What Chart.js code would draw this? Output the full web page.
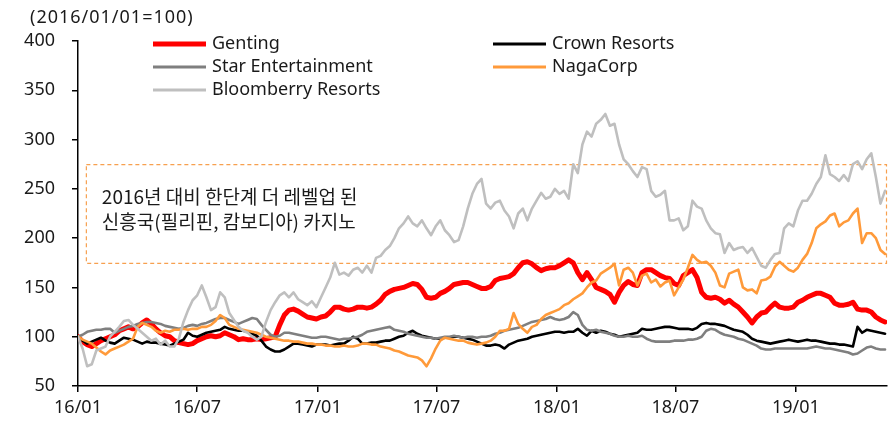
<!DOCTYPE html>
<html><head><meta charset="utf-8">
<script src="https://cdn.jsdelivr.net/npm/chart.js@4.4.1/dist/chart.umd.min.js"></script>
<style>html,body{margin:0;padding:0;background:#fff;}#wrap{width:889px;height:425px;}</style>
</head><body><div id="wrap"><canvas id="c" width="889" height="425"></canvas></div>
<script>
// weekly observations, day offsets from 2016-01-01
const weekDays = Array.from({length: 177}, (_, i) => i * 7);

const genting = [100,95,92,90,93,96,98,100,102,106,
108,110,108,110,114,117,113,108,104,101,
100,96,94,93,92,93,96,98,100,101,
100,101,104,102,100,97,98,97,97,98,
97,98,99,100,112,122,127,128,126,123,
120,119,118,120,121,125,130,130,128,127,
128,130,130,129,130,133,137,143,146,148,
149,150,152,154,153,148,140,139,140,144,
146,149,153,154,155,155,153,151,149,149,
151,157,159,160,161,164,170,175,176,174,
170,167,169,170,170,172,175,178,175,165,
158,165,158,150,148,146,143,135,145,152,
156,153,152,165,168,168,165,162,160,159,
154,152,162,165,168,160,145,140,139,140,
138,134,137,133,130,125,120,114,120,124,
125,130,134,130,129,129,130,135,137,140,
142,144,144,142,140,134,132,132,133,135,
128,127,127,125,120,117,115];

const crown = [100,96,93,95,97,99,96,94,93,96,
99,98,97,95,93,95,94,94,93,92,
91,93,95,97,104,101,100,102,104,105,
106,107,110,108,107,106,106,105,103,101,
96,90,87,85,85,87,90,93,93,92,
91,90,92,92,92,91,92,93,93,96,
100,98,93,93,94,94,95,96,96,98,
100,101,104,106,103,101,100,99,98,98,
99,99,100,100,99,98,97,95,93,91,
91,92,91,88,92,94,96,97,98,100,
101,102,103,104,105,105,104,105,105,108,
104,101,106,104,106,105,103,102,100,101,
102,103,104,108,107,107,108,109,110,110,
109,108,108,108,107,109,113,114,113,113,
112,111,109,107,106,105,102,98,96,95,
94,93,94,95,96,97,96,95,96,97,
96,96,95,94,93,93,92,92,91,90,
110,104,107,106,105,104,103];

const star = [100,102,105,106,107,107,108,108,104,106,
108,110,111,113,114,115,115,114,113,111,
110,109,108,109,111,112,111,113,114,116,
118,119,119,117,115,113,115,117,119,118,
112,107,102,100,101,104,104,103,102,101,
100,99,99,100,100,99,98,97,98,98,
99,100,102,105,106,107,108,109,110,107,
106,105,103,102,101,100,99,99,98,99,
100,100,101,100,99,100,100,99,100,100,
101,103,104,106,107,108,109,111,113,115,
116,117,118,120,118,117,118,120,125,122,
112,107,106,107,105,104,103,101,100,100,
101,100,100,101,98,96,95,95,95,95,
96,96,96,97,97,98,100,106,108,107,
104,102,101,100,98,97,95,93,91,88,
87,87,88,88,88,88,88,88,88,88,
89,90,89,88,88,87,86,85,84,82,
83,86,89,90,88,87,87];

const nagacorp = [100,97,95,93,89,85,82,86,88,90,
92,95,98,110,114,112,110,106,104,106,
105,107,107,108,107,108,108,110,110,112,
116,122,119,112,110,108,107,106,105,104,
102,100,99,98,97,96,96,95,95,94,
93,93,92,92,91,91,90,90,91,90,
90,91,93,93,92,92,90,89,88,86,
85,83,81,80,79,76,70,78,88,96,
99,98,97,96,96,94,93,92,93,94,
96,100,106,106,108,124,113,108,104,110,
112,118,122,124,126,128,132,134,138,141,
144,150,155,157,164,167,170,174,152,168,
170,165,152,162,164,155,158,151,155,157,
142,150,158,170,183,178,175,176,172,165,
152,150,164,166,168,150,147,148,144,157,
158,161,171,176,172,168,166,170,178,184,
195,210,214,217,223,225,212,216,218,225,
230,195,205,205,200,188,184];

const bloomberry = [100,88,70,72,86,88,90,100,105,110,
116,117,112,108,104,100,96,98,92,96,
90,90,98,115,127,137,142,152,140,127,
130,145,140,124,117,110,106,104,100,97,
100,115,127,135,142,145,140,145,138,135,
132,136,130,140,150,160,175,163,165,162,
168,170,165,172,165,180,182,188,192,200,
210,215,222,215,212,218,210,203,212,218,
208,203,196,198,212,230,245,255,260,235,
230,236,238,228,222,210,225,230,218,230,
238,246,240,242,250,245,248,240,275,266,
295,308,303,316,320,326,314,316,295,280,
275,268,262,272,270,248,242,244,248,218,
218,220,208,212,238,232,230,218,210,205,
204,185,195,188,190,191,185,190,181,172,
170,178,184,185,210,215,212,228,238,238,
245,255,262,284,265,262,258,264,258,275,
278,270,280,286,262,235,248];

const seriesNames = ['Genting','Crown Resorts','Star Entertainment','NagaCorp','Bloomberry Resorts'];
const tickDays = [0,182,366,547,731,912,1096];
const tickLabels = ['16/01','16/07','17/01','17/07','18/01','18/07','19/01'];
const yTicks = [50,100,150,200,250,300,350,400];
const unitLabel = '(2016/01/01=100)';
const noteLines = ['2016년 대비 한단계 더 레벨업 된','신흥국(필리핀, 캄보디아) 카지노'];
const bandRange = [175, 275];
const bandStartDay = 12;

const FONT = '"Noto Sans", "Noto Sans CJK KR", sans-serif';
const toXY = arr => arr.map((v, i) => ({x: weekDays[i], y: v}));

const styles = [
  {color:'#ff0000', width:5, order:5},
  {color:'#000000', width:2.6, order:4},
  {color:'#7f7f7f', width:2.6, order:3},
  {color:'#ff9a3a', width:2.6, order:2},
  {color:'#bfbfbf', width:2.6, order:1}
];
const allSeries = [genting, crown, star, nagacorp, bloomberry];

const datasets = allSeries.map((arr, k) => ({
  label: seriesNames[k],
  data: toXY(arr),
  borderColor: styles[k].color,
  backgroundColor: styles[k].color,
  borderWidth: styles[k].width,
  order: styles[k].order,
  pointRadius: 0,
  tension: 0,
  borderJoinStyle: 'round',
  borderCapStyle: 'round'
}));

const decoPlugin = {
  id: 'deco',
  beforeDatasetsDraw(chart) {
    const {ctx, chartArea, scales} = chart;
    const x1 = scales.x.getPixelForValue(bandStartDay);
    const x2 = chartArea.right - 1;
    const yTop = scales.y.getPixelForValue(bandRange[1]);
    const yBot = scales.y.getPixelForValue(bandRange[0]);
    ctx.save();
    ctx.strokeStyle = '#f7a04f';
    ctx.lineWidth = 1.2;
    ctx.setLineDash([4, 3]);
    ctx.strokeRect(x1 + 0.5, yTop + 0.5, x2 - x1, yBot - yTop);
    ctx.setLineDash([]);
    ctx.fillStyle = '#1a1a1a';
    ctx.font = '19px "Noto Sans CJK KR", "Noto Sans", sans-serif';
    ctx.textBaseline = 'middle';
    ctx.textAlign = 'left';
    ctx.fillText(noteLines[0], x1 + 16, yTop + 33);
    ctx.fillText(noteLines[1], x1 + 16, yTop + 58);
    ctx.restore();
  },
  afterDraw(chart) {
    const {ctx} = chart;
    ctx.save();
    ctx.fillStyle = '#1a1a1a';
    ctx.textBaseline = 'middle';
    ctx.textAlign = 'left';
    ctx.font = '18px ' + FONT;
    try { ctx.letterSpacing = '1px'; } catch (e) {}
    ctx.fillText(unitLabel, 30, 18);
    try { ctx.letterSpacing = '0px'; } catch (e) {}
    const cols = [153, 493];
    const rows = [44, 67, 90];
    const place = [[0,0],[1,0],[0,1],[1,1],[0,2]];
    seriesNames.forEach((name, k) => {
      const [c, r] = place[k];
      const x = cols[c], y = rows[r];
      ctx.strokeStyle = styles[k].color;
      ctx.lineWidth = k === 0 ? 5 : 3;
      ctx.beginPath();
      ctx.moveTo(x, y);
      ctx.lineTo(x + 53, y);
      ctx.stroke();
      ctx.fillText(name, x + 59, y);
    });
    ctx.restore();
  }
};

new Chart(document.getElementById('c'), {
  type: 'line',
  data: { datasets },
  options: {
    responsive: false,
    animation: false,
    layout: { padding: { top: 41, right: 2, left: 0, bottom: 0 } },
    plugins: { legend: { display: false }, tooltip: { enabled: false } },
    scales: {
      x: {
        type: 'linear',
        min: 0,
        max: 1235,
        afterBuildTicks: s => { s.ticks = tickDays.map(v => ({value: v})); },
        afterFit: s => { s.height = 39; },
        ticks: {
          autoSkip: false, maxRotation: 0, padding: 5,
          color: '#1a1a1a', font: { size: 18, family: FONT },
          callback: (v, i) => tickLabels[i]
        },
        grid: { display: true, drawOnChartArea: false, drawTicks: true, tickLength: 6, color: '#000', lineWidth: 1.5 },
        border: { display: true, color: '#000', width: 1.5 }
      },
      y: {
        type: 'linear',
        min: 50,
        max: 400,
        afterBuildTicks: s => { s.ticks = yTicks.map(v => ({value: v})); },
        afterFit: s => { s.width = 78; },
        ticks: {
          padding: 17,
          color: '#1a1a1a', font: { size: 18, family: FONT }
        },
        grid: { display: true, drawOnChartArea: false, drawTicks: true, tickLength: 6, color: '#000', lineWidth: 1.5 },
        border: { display: true, color: '#000', width: 1.5 }
      }
    }
  },
  plugins: [decoPlugin]
});
</script></body></html>
